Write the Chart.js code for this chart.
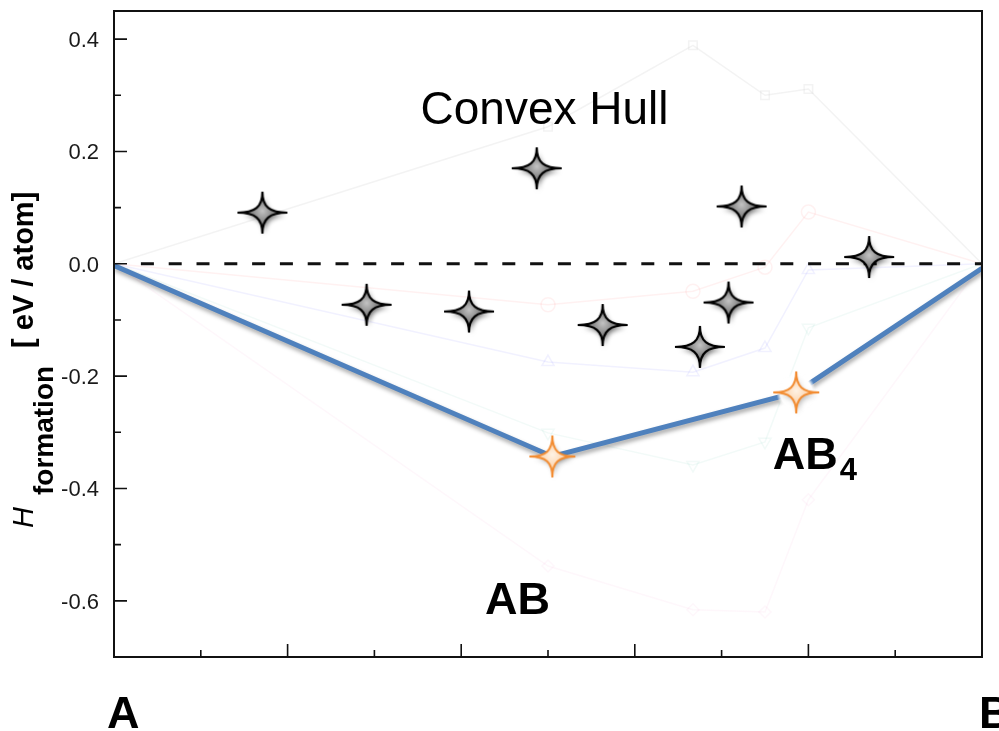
<!DOCTYPE html>
<html>
<head>
<meta charset="utf-8">
<title>Convex Hull</title>
<script src="https://cdn.jsdelivr.net/npm/chart.js@4"></script>
<style>
  html, body { margin: 0; padding: 0; background: #ffffff; }
  #wrap { width: 999px; height: 731px; position: relative; overflow: hidden; }
  canvas { display: block; }
</style>
</head>
<body>
<div id="wrap"><canvas id="hull" width="999" height="731"></canvas></div>
<script>
// ---- data -------------------------------------------------------------
// composition axis: 0 = pure A, 1 = pure B
const xEndLabels = ['A', 'B'];
const yTickValues = [0.4, 0.2, 0.0, -0.2, -0.4, -0.6];
const yTickLabels = ['0.4', '0.2', '0.0', '-0.2', '-0.4', '-0.6'];
const yMinorTicks = [0.3, 0.1, -0.1, -0.3, -0.5];
const xMajorTicks = [0.2, 0.4, 0.6, 0.8];
const xMinorTicks = [0.1, 0.3, 0.5, 0.7, 0.9];

// lower convex hull (eV/atom)
const hullX = [0, 0.505, 0.786, 1];
const hullY = [-0.003, -0.343, -0.229, -0.008];

// stable phases on the hull
const stableNames = ['AB', 'AB4'];
const stableX = [0.505, 0.786];
const stableY = [-0.343, -0.229];

// metastable / unstable structures above the hull
const unstableX = [0.171, 0.291, 0.409, 0.487, 0.563, 0.675, 0.708, 0.723, 0.870];
const unstableY = [0.091, -0.073, -0.085, 0.170, -0.109, -0.148, -0.069, 0.102, 0.012];

// zero-formation-energy reference
const zeroLineX = [0.031, 1];
const zeroLineY = [0, 0];

// background curves of candidate structure families
const familyX = [0, 0.5, 0.667, 0.75, 0.8, 1];
const familyGrayY  = [0, 0.244, 0.389, 0.300, 0.311, 0];
const familyRedY   = [0, -0.073, -0.049, -0.006, 0.092, 0];
const familyBlueY  = [0, -0.175, -0.193, -0.150, -0.011, 0];
const familyGreenY = [0, -0.301, -0.358, -0.317, -0.114, 0];
const familyPinkY  = [0, -0.538, -0.616, -0.620, -0.420, 0];

const pts = (xs, ys) => xs.map((x, i) => ({ x: x, y: ys[i] }));

// ---- star markers -----------------------------------------------------
function starPath(ctx, w, h) {
  const cx = w * 0.28, cy = h * 0.28;
  ctx.beginPath();
  ctx.moveTo(0, -h);
  ctx.bezierCurveTo(0, -cy, cx, 0, w, 0);
  ctx.bezierCurveTo(cx, 0, 0, cy, 0, h);
  ctx.bezierCurveTo(0, cy, -cx, 0, -w, 0);
  ctx.bezierCurveTo(-cx, 0, 0, -cy, 0, -h);
  ctx.closePath();
}

function makeStar(o) {
  const pad = 26;
  const c = document.createElement('canvas');
  c.width = 2 * (o.w + pad);
  c.height = 2 * (o.h + pad);
  const g = c.getContext('2d');
  g.translate(c.width / 2, c.height / 2);
  if (o.halo) {
    const hg = g.createRadialGradient(0, 0, 0, 0, 0, o.halo);
    hg.addColorStop(0, 'rgba(255,255,255,1)');
    hg.addColorStop(0.8, 'rgba(255,255,255,1)');
    hg.addColorStop(1, 'rgba(255,255,255,0)');
    g.fillStyle = hg;
    g.beginPath();
    g.arc(0, 0, o.halo, 0, Math.PI * 2);
    g.fill();
  }
  const fg = g.createRadialGradient(0, -2, 0, 0, 0, o.w * 0.8);
  fg.addColorStop(0, o.fill0);
  fg.addColorStop(1, o.fill1);
  starPath(g, o.w, o.h);
  g.save();
  g.shadowColor = o.shadow;
  g.shadowBlur = 5;
  g.shadowOffsetX = 2;
  g.shadowOffsetY = 3;
  g.fillStyle = fg;
  g.fill();
  g.restore();
  starPath(g, o.w, o.h);
  g.lineJoin = 'miter';
  g.lineWidth = o.lw;
  g.strokeStyle = o.stroke;
  g.stroke();
  return c;
}

const grayStar = makeStar({ w: 25, h: 21, fill0: '#c4c4c4', fill1: '#4a4a4a',
  stroke: '#000000', lw: 2.2, shadow: 'rgba(0,0,0,0.55)' });
const orangeStar = makeStar({ w: 23, h: 21, fill0: '#fff3e6', fill1: '#fbc490',
  stroke: '#f28b30', lw: 2, shadow: 'rgba(0,0,0,0.25)' });
const orangeStarHalo = makeStar({ w: 23, h: 21, fill0: '#fff3e6', fill1: '#fbc490',
  stroke: '#f28b30', lw: 2, shadow: 'rgba(0,0,0,0.25)', halo: 20 });

// ---- plugins ----------------------------------------------------------
const FONT = '"Liberation Sans", Arial, Helvetica, sans-serif';

const lineShadow = {
  id: 'lineShadow',
  beforeDatasetDraw(chart, args) {
    if (chart.data.datasets[args.index].label !== 'Convex Hull') return;
    const ctx = chart.ctx;
    ctx.save();
    ctx.shadowColor = 'rgba(0,0,0,0.35)';
    ctx.shadowBlur = 4;
    ctx.shadowOffsetX = 1;
    ctx.shadowOffsetY = 3;
  },
  afterDatasetDraw(chart, args) {
    if (chart.data.datasets[args.index].label !== 'Convex Hull') return;
    chart.ctx.restore();
  }
};

const frameAndLabels = {
  id: 'frameAndLabels',
  afterDatasetsDraw(chart) {
    const { ctx, chartArea: a, scales } = chart;
    const xs = scales.x, ys = scales.y;
    ctx.save();

    // plot frame
    ctx.strokeStyle = '#111111';
    ctx.lineWidth = 2;
    ctx.strokeRect(a.left, a.top, a.right - a.left, a.bottom - a.top);

    // inward ticks
    ctx.lineWidth = 1.6;
    ctx.beginPath();
    yTickValues.forEach(v => { const p = ys.getPixelForValue(v); ctx.moveTo(a.left, p); ctx.lineTo(a.left + 13, p); });
    yMinorTicks.forEach(v => { const p = ys.getPixelForValue(v); ctx.moveTo(a.left, p); ctx.lineTo(a.left + 7, p); });
    xMajorTicks.forEach(v => { const p = xs.getPixelForValue(v); ctx.moveTo(p, a.bottom); ctx.lineTo(p, a.bottom - 13); });
    xMinorTicks.forEach(v => { const p = xs.getPixelForValue(v); ctx.moveTo(p, a.bottom); ctx.lineTo(p, a.bottom - 7); });
    ctx.stroke();

    // y tick labels
    ctx.fillStyle = '#1a1a1a';
    ctx.font = '22px ' + FONT;
    ctx.textAlign = 'right';
    ctx.textBaseline = 'alphabetic';
    yTickValues.forEach((v, i) => {
      ctx.fillText(yTickLabels[i], a.left - 15, ys.getPixelForValue(v) + 8);
    });

    // end-member labels under the axis
    ctx.fillStyle = '#000000';
    ctx.font = 'bold 45px ' + FONT;
    ctx.textAlign = 'left';
    ctx.fillText(xEndLabels[0], xs.getPixelForValue(0) - 7, a.bottom + 71);
    ctx.fillText(xEndLabels[1], xs.getPixelForValue(1) - 3, a.bottom + 71);

    // y axis title, rotated
    ctx.save();
    ctx.rotate(-Math.PI / 2);
    ctx.fillStyle = '#000000';
    ctx.textAlign = 'left';
    // rotated frame: (x', y') -> screen (y', -x')
    ctx.font = 'italic 29px ' + FONT;
    ctx.fillText('H', -528, 33);
    ctx.font = 'bold 28px ' + FONT;
    ctx.fillText('formation', -495, 53);
    ctx.font = 'bold 29px ' + FONT;
    ctx.fillText('[ eV / atom]', -348, 33);
    ctx.restore();

    // annotations
    ctx.fillStyle = '#000000';
    ctx.textAlign = 'center';
    ctx.font = '46px ' + FONT;
    ctx.fillText('Convex Hull', xs.getPixelForValue(0.496), ys.getPixelForValue(0.249));

    ctx.font = 'bold 45px ' + FONT;
    ctx.fillText(stableNames[0], xs.getPixelForValue(0.465), ys.getPixelForValue(-0.623));

    ctx.textAlign = 'left';
    const bx = xs.getPixelForValue(0.759), by = ys.getPixelForValue(-0.365);
    ctx.fillText('AB', bx, by);
    const wAB = ctx.measureText('AB').width;
    ctx.font = 'bold 31px ' + FONT;
    ctx.fillText(stableNames[1].slice(2), bx + wAB + 2, by + 11);

    ctx.restore();
  }
};

// ---- chart ------------------------------------------------------------
const faint = (label, ys, color, style, rot, radius) => ({
  label: label,
  data: pts(familyX, ys),
  showLine: true,
  borderColor: color,
  borderWidth: 1.5,
  pointStyle: style,
  rotation: rot,
  pointRadius: [0, radius, radius, radius, radius, 0],
  pointBorderColor: color,
  pointBackgroundColor: 'rgba(255,255,255,0)',
  pointBorderWidth: 1.5,
  order: 6
});

new Chart(document.getElementById('hull'), {
  type: 'scatter',
  data: {
    datasets: [
      {
        label: 'Stable phases',
        data: pts(stableX, stableY),
        pointStyle: [orangeStar, orangeStarHalo],
        pointRadius: 20,
        showLine: false,
        order: 0
      },
      {
        label: 'Structures',
        data: pts(unstableX, unstableY),
        pointStyle: grayStar,
        pointRadius: 20,
        showLine: false,
        order: 1
      },
      {
        label: 'Convex Hull',
        data: pts(hullX, hullY),
        showLine: true,
        borderColor: '#4f81bd',
        borderWidth: 5,
        pointRadius: 0,
        order: 3
      },
      {
        label: 'Zero',
        data: pts(zeroLineX, zeroLineY),
        showLine: true,
        borderColor: '#111111',
        borderWidth: 3,
        borderDash: [13, 14.8],
        pointRadius: 0,
        order: 4
      },
      faint('family 1', familyGrayY, 'rgba(200,200,200,0.22)', 'rect', 0, 6),
      faint('family 2', familyRedY, 'rgba(255,120,120,0.10)', 'circle', 0, 7),
      faint('family 3', familyBlueY, 'rgba(120,120,255,0.10)', 'triangle', 0, 7),
      faint('family 4', familyGreenY, 'rgba(90,190,160,0.08)', 'triangle', 180, 7),
      faint('family 5', familyPinkY, 'rgba(240,120,190,0.06)', 'rectRot', 0, 6)
    ]
  },
  options: {
    responsive: false,
    animation: false,
    devicePixelRatio: 1,
    layout: { autoPadding: false, padding: { left: 114, right: 17, top: 11, bottom: 74 } },
    scales: {
      x: { type: 'linear', min: 0, max: 1, display: false },
      y: { type: 'linear', min: -0.7, max: 0.45, display: false }
    },
    plugins: {
      legend: { display: false },
      tooltip: { enabled: false }
    }
  },
  plugins: [lineShadow, frameAndLabels]
});
</script>
</body>
</html>
